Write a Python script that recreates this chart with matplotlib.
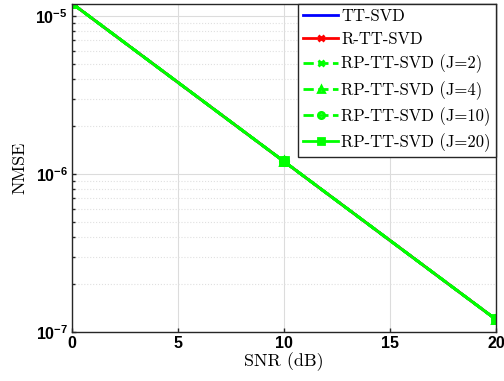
import matplotlib
matplotlib.use("Agg")
import matplotlib.pyplot as plt
from matplotlib.ticker import LogLocator, FixedLocator

snr = [0, 10, 20]
tt_svd = [1.2e-5, 1.2e-6, 1.2e-7]
r_tt_svd = [1.2e-5, 1.2e-6, 1.2e-7]
rp_j2 = [1.2e-5, 1.2e-6, 1.2e-7]
rp_j4 = [1.2e-5, 1.2e-6, 1.2e-7]
rp_j10 = [1.2e-5, 1.2e-6, 1.2e-7]
rp_j20 = [1.2e-5, 1.2e-6, 1.2e-7]

labels = ["TT-SVD", "R-TT-SVD", "RP-TT-SVD (J=2)", "RP-TT-SVD (J=4)",
          "RP-TT-SVD (J=10)", "RP-TT-SVD (J=20)"]

serif_leg = {"family": "cmr10", "size": 12}
serif_lab = {"family": "cmr10", "size": 13}

plt.rcParams["mathtext.fontset"] = "custom"
plt.rcParams["mathtext.bf"] = "Liberation Sans:bold"
plt.rcParams["mathtext.rm"] = "Liberation Sans:bold"
plt.rcParams["mathtext.default"] = "bf"

fig = plt.figure(figsize=(5.04, 3.81), dpi=100)
ax = fig.add_axes([72 / 504, 49 / 381, 424 / 504, 328 / 381])

ax.plot(snr, tt_svd, color="blue", lw=2, label=labels[0])
ax.plot(snr, r_tt_svd, color="red", lw=2, marker="x", ms=5, mew=2, label=labels[1])
ax.plot(snr, rp_j2, color="#00ff00", lw=2, ls="--", marker="x", ms=5, mew=2, label=labels[2])
ax.plot(snr, rp_j4, color="#00ff00", lw=2, ls="--", marker="^", ms=6, mew=2, mfc="none", label=labels[3])
ax.plot(snr, rp_j10, color="#00ff00", lw=2, ls="--", marker="o", ms=6, mew=2, mfc="none", label=labels[4])
ax.plot(snr, rp_j20, color="#00ff00", lw=2, marker="s", ms=6, mew=2, label=labels[5])

ax.set_yscale("log")
ax.set_xlim(0, 20)
ax.set_ylim(1e-7, 1.19e-5)
ax.xaxis.set_major_locator(FixedLocator([0, 5, 10, 15, 20]))
ax.yaxis.set_major_locator(LogLocator(base=10))
ax.yaxis.set_minor_locator(LogLocator(base=10, subs=range(2, 10)))
ax.yaxis.set_minor_formatter(plt.NullFormatter())

ax.grid(True, which="major", color="#dcdcdc", lw=0.8)
ax.grid(True, which="minor", axis="y", color="#e0e0e0", lw=0.8, ls=":")
ax.set_axisbelow(True)

for lab in ax.get_xticklabels() + ax.get_yticklabels():
    lab.set_fontweight("bold")
    lab.set_fontsize(11.5)
    lab.set_family("Liberation Sans")
ax.tick_params(which="both", direction="in", length=3, width=1, colors="#262626",
               labelcolor="black", pad=3)
ax.tick_params(which="minor", length=2)
for s in ax.spines.values():
    s.set_linewidth(1)
    s.set_color("#262626")

ax.set_xlabel("SNR (dB)", fontdict=serif_lab, labelpad=1)
ax.set_ylabel("NMSE", fontdict=serif_lab, labelpad=6)

leg = ax.legend(loc="upper right", prop=serif_leg, handlelength=2.1, handletextpad=0.2,
                borderpad=0.3, labelspacing=0.45, fancybox=False, framealpha=1,
                edgecolor="#262626", borderaxespad=0, markerscale=0.75)
leg.get_frame().set_linewidth(1)

fig.savefig("out.png", dpi=100)
